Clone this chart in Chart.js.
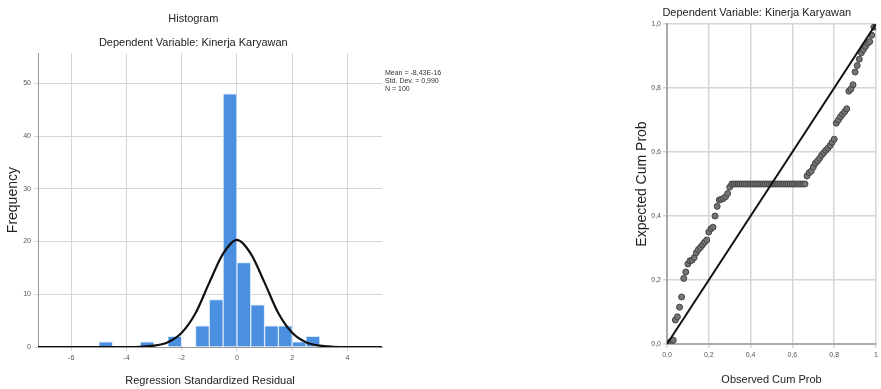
<!DOCTYPE html>
<html>
<head>
<meta charset="utf-8">
<script src="https://cdn.jsdelivr.net/npm/chart.js@4.4.0/dist/chart.umd.min.js"></script>
<style>
  html, body { margin: 0; padding: 0; background: #fff; }
  body { width: 881px; height: 389px; position: relative; overflow: hidden; }
  #histChart { position: absolute; left: 0; top: 0; }
  #ppChart { position: absolute; left: 620px; top: 0; }
</style>
</head>
<body>
<canvas id="histChart" width="470" height="389"></canvas>
<canvas id="ppChart" width="261" height="389"></canvas>
<script>
// Histogram data (bin centres, bin width 0.5)
const histBins = [-4.75, -4.25, -3.75, -3.25, -2.75, -2.25, -1.75, -1.25, -0.75, -0.25, 0.25, 0.75, 1.25, 1.75, 2.25, 2.75];
const histCounts = [1, 0, 0, 1, 0, 2, 0, 4, 9, 48, 16, 8, 4, 4, 1, 2];

// Normal curve
const curveX = [-7.2, -4, -3.5, -3, -2.5, -2, -1.5, -1, -0.5, 0, 0.5, 1, 1.5, 2, 2.5, 3, 3.5, 4, 5.25];
const curveY = [0, 0, 0.05, 0.25, 0.9, 2.7, 6.4, 12.2, 17.7, 20.3, 17.7, 12.2, 6.4, 2.7, 0.9, 0.25, 0.05, 0, 0];

const histXTicks = ['-6', '-4', '-2', '0', '2', '4'];
const histYTicks = ['0', '10', '20', '30', '40', '50'];
const statsLines = ['Mean = -8,43E-16', 'Std. Dev. = 0,990', 'N = 100'];

// P-P plot data
const ppObserved = [
    0.01, 0.02, 0.03, 0.04, 0.05, 0.06, 0.07, 0.08, 0.09, 0.10,
    0.11, 0.12, 0.13, 0.14, 0.15, 0.16, 0.17, 0.18, 0.19, 0.20,
    0.21, 0.22, 0.23, 0.24, 0.25, 0.26, 0.27, 0.28, 0.29, 0.30,
    0.31, 0.32, 0.33, 0.34, 0.35, 0.36, 0.37, 0.38, 0.39, 0.40,
    0.41, 0.42, 0.43, 0.44, 0.45, 0.46, 0.47, 0.48, 0.49, 0.50,
    0.51, 0.52, 0.53, 0.54, 0.55, 0.56, 0.57, 0.58, 0.59, 0.60,
    0.61, 0.62, 0.63, 0.64, 0.65, 0.66, 0.67, 0.68, 0.69, 0.70,
    0.71, 0.72, 0.73, 0.74, 0.75, 0.76, 0.77, 0.78, 0.79, 0.80,
    0.81, 0.82, 0.83, 0.84, 0.85, 0.86, 0.87, 0.88, 0.89, 0.90,
    0.91, 0.92, 0.93, 0.94, 0.95, 0.96, 0.97, 0.98, 0.99, 1.00
];
const ppExpected = [
    0.004, 0.008, 0.012, 0.075, 0.085, 0.115, 0.147, 0.205, 0.225, 0.25,
    0.26, 0.262, 0.27, 0.285, 0.295, 0.302, 0.31, 0.318, 0.325, 0.35,
    0.36, 0.365, 0.40, 0.43, 0.45, 0.452, 0.455, 0.46, 0.47, 0.49,
    0.5, 0.5, 0.5, 0.5, 0.5, 0.5, 0.5, 0.5, 0.5, 0.5,
    0.5, 0.5, 0.5, 0.5, 0.5, 0.5, 0.5, 0.5, 0.5, 0.5,
    0.5, 0.5, 0.5, 0.5, 0.5, 0.5, 0.5, 0.5, 0.5, 0.5,
    0.5, 0.5, 0.5, 0.5, 0.5, 0.5, 0.525, 0.535, 0.54, 0.553,
    0.565, 0.572, 0.58, 0.59, 0.598, 0.605, 0.612, 0.62, 0.63, 0.64,
    0.69, 0.70, 0.71, 0.718, 0.726, 0.735, 0.79, 0.797, 0.81, 0.85,
    0.87, 0.89, 0.91, 0.92, 0.93, 0.94, 0.945, 0.965, 0.99, 0.995
];
const refLineX = [0, 1];
const refLineY = [0, 1];
const ppXTicks = ['0,0', '0,2', '0,4', '0,6', '0,8', '1'];
const ppYTicks = ['0,0', '0,2', '0,4', '0,6', '0,8', '1,0'];

const FONT = '"Liberation Sans", Arial, sans-serif';
const GRID = '#d6d6d6';
const TICK_FONT = { family: FONT, size: 7 };

// draws the SPSS stats box to the right of the histogram
const statsText = {
    id: 'statsText',
    afterDraw(chart) {
        const ctx = chart.ctx;
        ctx.save();
        ctx.font = '7px ' + FONT;
        ctx.fillStyle = '#333';
        ctx.textBaseline = 'middle';
        statsLines.forEach((t, i) => {
            ctx.fillText(t, chart.chartArea.right + 3, 73 + i * 8);
        });
        ctx.restore();
    }
};

function tickLabel(list, step) {
    return (value) => {
        const idx = Math.round(value / step);
        return list[idx] !== undefined ? list[idx] : '';
    };
}

function initializeCharts() {
    // Histogram
    new Chart(document.getElementById('histChart'), {
        type: 'bar',
        data: {
            datasets: [{
                type: 'line',
                data: curveX.map((x, i) => ({ x: x, y: curveY[i] })),
                borderColor: '#111',
                borderWidth: 2.2,
                pointRadius: 0,
                cubicInterpolationMode: 'monotone',
                order: 0
            }, {
                data: histBins.map((x, i) => ({ x: x, y: histCounts[i] })),
                backgroundColor: '#4a8fe0',
                borderColor: '#d8e8fa',
                borderWidth: 1,
                barPercentage: 1,
                categoryPercentage: 1,
                order: 1
            }]
        },
        options: {
            responsive: false,
            animation: false,
            layout: { padding: { left: 4.6, right: 88, top: 0, bottom: 0 } },
            plugins: {
                legend: { display: false },
                tooltip: { enabled: false },
                title: {
                    display: true,
                    text: 'Histogram',
                    color: '#222',
                    font: { family: FONT, size: 11, weight: 'normal' },
                    padding: { top: 12, bottom: 5 }
                },
                subtitle: {
                    display: true,
                    text: 'Dependent Variable: Kinerja Karyawan',
                    color: '#222',
                    font: { family: FONT, size: 11 },
                    padding: { top: 6, bottom: 3.8 }
                }
            },
            scales: {
                x: {
                    type: 'linear',
                    min: -7.2,
                    max: 5.25,
                    offset: false,
                    grid: { color: GRID, tickLength: 4, offset: false },
                    border: { color: '#999' },
                    ticks: {
                        stepSize: 2,
                        includeBounds: false,
                        padding: 3,
                        maxRotation: 0,
                        color: '#555',
                        font: TICK_FONT,
                        callback: (v) => histXTicks[Math.round((v + 6) / 2)] ?? ''
                    },
                    title: {
                        display: true,
                        text: 'Regression Standardized Residual',
                        color: '#222',
                        font: { family: FONT, size: 11 },
                        padding: { top: 0, bottom: 1.4 }
                    },
                    afterFit: (s) => { s.height = 42; }
                },
                y: {
                    min: 0,
                    max: 55.7,
                    grid: { color: GRID, tickLength: 4 },
                    border: { color: '#999' },
                    ticks: {
                        stepSize: 10,
                        includeBounds: false,
                        padding: 3,
                        color: '#555',
                        font: TICK_FONT,
                        callback: tickLabel(histYTicks, 10)
                    },
                    title: {
                        display: true,
                        text: 'Frequency',
                        color: '#222',
                        font: { family: FONT, size: 14 },
                        padding: 0
                    },
                    afterFit: (s) => { s.width = 33.4; }
                }
            }
        },
        plugins: [statsText]
    });

    // Normal P-P Plot
    new Chart(document.getElementById('ppChart'), {
        type: 'scatter',
        data: {
            datasets: [{
                type: 'line',
                data: refLineX.map((x, i) => ({ x: x, y: refLineY[i] })),
                borderColor: '#111',
                borderWidth: 2,
                pointRadius: 0,
                order: 0
            }, {
                data: ppObserved.map((x, i) => ({ x: x, y: ppExpected[i] })),
                backgroundColor: '#747474',
                borderColor: '#444',
                borderWidth: 1,
                pointRadius: 3,
                order: 1
            }]
        },
        options: {
            responsive: false,
            animation: false,
            layout: { padding: { left: 13.6, right: 1, top: 0, bottom: 0 } },
            plugins: {
                legend: { display: false },
                tooltip: { enabled: false },
                title: {
                    display: true,
                    text: 'Dependent Variable: Kinerja Karyawan',
                    color: '#222',
                    font: { family: FONT, size: 11, weight: 'normal' },
                    padding: { top: 6.4, bottom: 4.4 }
                }
            },
            scales: {
                x: {
                    type: 'linear',
                    min: 0,
                    max: 1,
                    grid: { color: GRID, lineWidth: 1.5, tickLength: 4 },
                    border: { color: '#aaa', width: 2 },
                    ticks: {
                        stepSize: 0.2,
                        padding: 3,
                        maxRotation: 0,
                        color: '#555',
                        font: TICK_FONT,
                        callback: tickLabel(ppXTicks, 0.2)
                    },
                    title: {
                        display: true,
                        text: 'Observed Cum Prob',
                        color: '#222',
                        font: { family: FONT, size: 11 },
                        padding: { top: 0, bottom: 2.4 }
                    },
                    afterFit: (s) => { s.height = 45; }
                },
                y: {
                    min: 0,
                    max: 1,
                    grid: { color: GRID, lineWidth: 1.5, tickLength: 4 },
                    border: { color: '#aaa', width: 2 },
                    ticks: {
                        stepSize: 0.2,
                        padding: 2,
                        color: '#555',
                        font: TICK_FONT,
                        callback: tickLabel(ppYTicks, 0.2)
                    },
                    title: {
                        display: true,
                        text: 'Expected Cum Prob',
                        color: '#222',
                        font: { family: FONT, size: 14 },
                        padding: 0
                    },
                    afterFit: (s) => { s.width = 33.4; }
                }
            }
        }
    });
}

document.addEventListener('DOMContentLoaded', initializeCharts);
</script>
</body>
</html>
